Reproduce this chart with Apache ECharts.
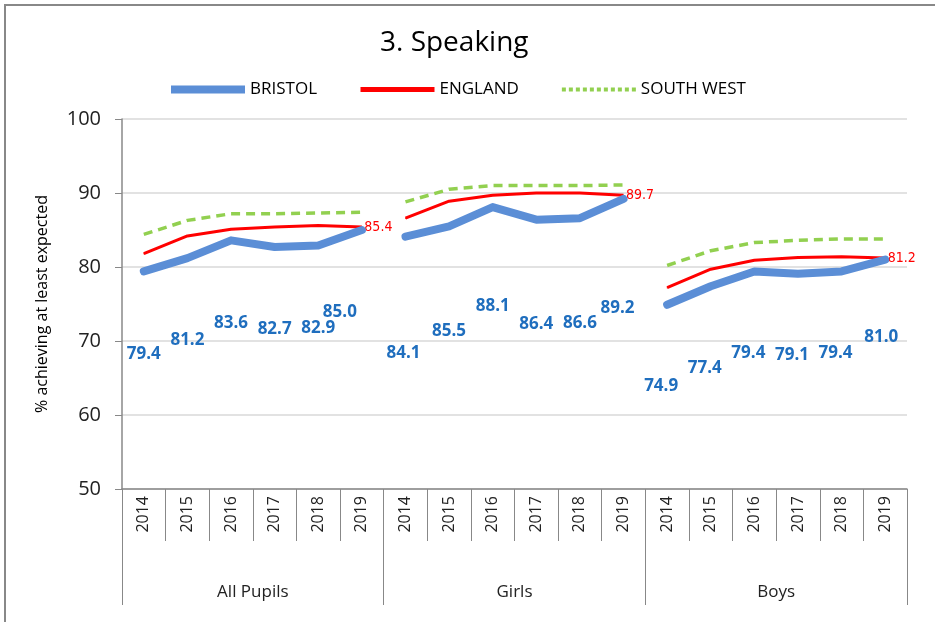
<!DOCTYPE html>
<html>
<head>
<meta charset="utf-8">
<title>3. Speaking</title>
<script src="https://cdn.jsdelivr.net/npm/echarts@6/dist/echarts.min.js"></script>
<style>
  html, body { margin: 0; padding: 0; background: #fff; }
  #chart { width: 935px; height: 622px; }
</style>
</head>
<body>
<div id="chart"></div>
<script type="text/javascript">
    var years = ['2014', '2015', '2016', '2017', '2018', '2019'];
    var groups = ['All Pupils', 'Girls', 'Boys'];

    var bristolAll = [79.4, 81.2, 83.6, 82.7, 82.9, 85.0];
    var bristolGirls = [84.1, 85.5, 88.1, 86.4, 86.6, 89.2];
    var bristolBoys = [74.9, 77.4, 79.4, 79.1, 79.4, 81.0];

    var englandAll = [81.8, 84.2, 85.1, 85.4, 85.6, 85.4];
    var englandGirls = [86.6, 88.9, 89.7, 90.0, 90.0, 89.7];
    var englandBoys = [77.2, 79.7, 80.9, 81.3, 81.4, 81.2];

    var southWestAll = [84.4, 86.3, 87.2, 87.2, 87.3, 87.4];
    var southWestGirls = [88.8, 90.5, 91.0, 91.0, 91.0, 91.1];
    var southWestBoys = [80.2, 82.2, 83.3, 83.6, 83.8, 83.8];

    var bristol = [bristolAll, bristolGirls, bristolBoys];
    var england = [englandAll, englandGirls, englandBoys];
    var southWest = [southWestAll, southWestGirls, southWestBoys];

    // 18 categories: the years repeated once per group
    var categories = [];
    groups.forEach(function () { categories = categories.concat(years); });

    // place one group's values in its own slot, '-' elsewhere so the line breaks
    function pad(g, vals, itemFn) {
        var arr = [];
        for (var i = 0; i < categories.length; i++) arr.push('-');
        vals.forEach(function (v, j) {
            arr[g * years.length + j] = itemFn ? itemFn(v, j) : v;
        });
        return arr;
    }

    // label placement for the Bristol values (they were hand-placed in the original)
    var labelDrop = [73, 95, 72];
    function bristolLabelShift(g, j) {
        if (g === 0 && j === 5) return [-22, 0];
        if (g === 1 && j === 0) return [-2, 12];
        if (g === 1 && j === 2) return [0, -5];
        if (g === 1 && j === 5) return [-6, 5];
        if (g === 2 && j === 5) return [-4, -4];
        if (g === 2) return [-6, 0];
        return null;
    }

    var series = [];
    groups.forEach(function (grp, g) {
        series.push({
            name: 'SOUTH WEST',
            type: 'line',
            symbol: 'none',
            lineStyle: { color: '#92D050', width: 3.5, type: [9, 6] },
            itemStyle: { color: '#92D050' },
            data: pad(g, southWest[g]),
            z: 2
        });
        series.push({
            name: 'ENGLAND',
            type: 'line',
            symbol: 'circle',
            symbolSize: 1,
            lineStyle: { color: '#FF0000', width: 3 },
            itemStyle: { color: '#FF0000' },
            data: pad(g, england[g], function (v, j) {
                if (j !== years.length - 1) return v;
                return {
                    value: v,
                    label: {
                        show: true, position: 'right', distance: 2,
                        color: '#FF0000', fontSize: 14,
                        fontFamily: '"Liberation Sans Narrow", "DejaVu Sans Condensed", sans-serif',
                        formatter: function (p) { return p.value.toFixed(1); }
                    }
                };
            }),
            z: 3
        });
        series.push({
            name: 'BRISTOL',
            type: 'line',
            symbol: 'circle',
            symbolSize: 2,
            lineStyle: { color: '#5B8ED6', width: 8, cap: 'round', join: 'round' },
            itemStyle: { color: '#5B8ED6' },
            label: {
                show: true,
                position: 'bottom',
                distance: labelDrop[g],
                color: '#1F6EBE',
                fontSize: 17,
                fontWeight: 'bold',
                fontFamily: '"Open Sans", sans-serif',
                formatter: function (p) { return Number(p.value).toFixed(1); }
            },
            data: pad(g, bristol[g], function (v, j) {
                var shift = bristolLabelShift(g, j);
                if (!shift) return v;
                return { value: v, label: { offset: shift } };
            }),
            z: 4
        });
    });

    var myChart = echarts.init(document.getElementById('chart'));
    var option = {
        backgroundColor: '#fff',
        animation: false,
        textStyle: { fontFamily: '"Open Sans", sans-serif' },
        title: {
            text: '3. Speaking',
            left: 375,
            top: 24,
            textStyle: { fontSize: 28, fontWeight: 'normal', color: '#000', fontFamily: '"Open Sans", sans-serif' }
        },
        legend: {
            left: 162,
            top: 76,
            itemWidth: 74,
            itemHeight: 2,
            itemGap: 41,
            textStyle: { fontSize: 17, color: '#000', fontFamily: '"Open Sans", sans-serif' },
            data: [
                { name: 'BRISTOL', lineStyle: { width: 8, color: '#5B8ED6', cap: 'butt' } },
                { name: 'ENGLAND', lineStyle: { width: 5, color: '#FF0000', cap: 'butt' } },
                { name: 'SOUTH WEST', lineStyle: { width: 4, color: '#92D050', type: [4, 3], cap: 'butt' } }
            ]
        },
        grid: { left: 122, right: 28, top: 119, bottom: 133 },
        xAxis: [
            {
                type: 'category',
                data: categories,
                boundaryGap: true,
                axisLine: { lineStyle: { color: '#888', width: 1.5 } },
                axisTick: { show: true, interval: 0, length: 52, lineStyle: { color: '#888' } },
                axisLabel: { interval: 0, rotate: 90, margin: 7, fontSize: 16, color: '#222' }
            },
            {
                type: 'category',
                data: groups,
                position: 'bottom',
                boundaryGap: true,
                axisLine: { show: false },
                axisTick: { show: true, interval: 0, length: 116, lineStyle: { color: '#888' } },
                axisLabel: { interval: 0, margin: 95, fontSize: 17, color: '#222' }
            }
        ],
        yAxis: {
            type: 'value',
            min: 50,
            max: 100,
            interval: 10,
            name: '% achieving at least expected',
            nameLocation: 'middle',
            nameGap: 72,
            nameTextStyle: { fontSize: 16, color: '#000' },
            axisLine: { show: true, lineStyle: { color: '#888', width: 1.5 } },
            axisTick: { show: true, length: 7, lineStyle: { color: '#888' } },
            axisLabel: { fontSize: 20, color: '#222', margin: 21 },
            splitLine: { lineStyle: { color: '#D9D9D9', width: 1.5 } }
        },
        graphic: [
            {
                type: 'rect',
                shape: { x: 5, y: 5, width: 960, height: 640 },
                style: { fill: 'none', stroke: '#888', lineWidth: 2 },
                silent: true,
                z: -1
            }
        ],
        series: series
    };
    if (option && typeof option === "object") {
        myChart.setOption(option, true);
    }
</script>
</body>
</html>
